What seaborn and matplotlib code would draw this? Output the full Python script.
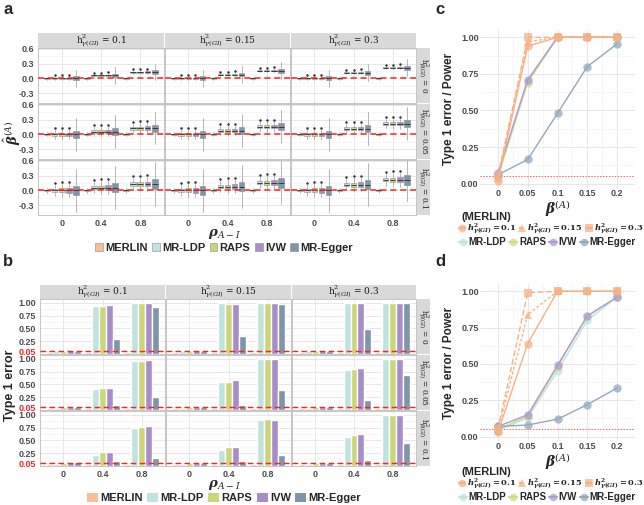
import numpy as np
import pandas as pd
import seaborn as sns
import matplotlib.pyplot as plt
from matplotlib.patches import Patch
from matplotlib.lines import Line2D
from matplotlib.colors import to_rgba

sns.set_style('white')
plt.rcParams['font.family'] = ['Liberation Sans', 'DejaVu Sans']
plt.rcParams['mathtext.fontset'] = 'dejavuserif'

methods = ['MERLIN', 'MR-LDP', 'RAPS', 'IVW', 'MR-Egger']
colors = ['#F9BE93', '#BFE3DE', '#CDD57A', '#A88DC9', '#7F95A8']
line_colors = ['#F7B184', '#BDE5E0', '#CFDC83', '#B09AD6', '#94A9BC']
rho = ['0', '0.4', '0.8']
h2_gamma = ['0.1', '0.15', '0.3']
h2_beta = ['0', '0.05', '0.1']

# panel a: medians of the MR estimates [h2_gamma][rho] (MERLIN stays at 0)
a_median = [[0.0, 0.06, 0.13], [0.0, 0.08, 0.16], [0.0, 0.12, 0.22]]
# half IQR per [h2_beta][method]
a_iqr = [[0.008, 0.01, 0.01, 0.012, 0.04],
         [0.012, 0.03, 0.03, 0.035, 0.07],
         [0.015, 0.035, 0.04, 0.045, 0.10]]
# whisker reach per [h2_beta][method]
a_whisker = [[0.03, 0.03, 0.03, 0.035, 0.17],
             [0.04, 0.09, 0.10, 0.10, 0.33],
             [0.05, 0.12, 0.13, 0.14, 0.44]]
# top outlier distance above the whisker
a_outlier = [[0.0, 0.03, 0.03, 0.03, 0.0],
             [0.0, 0.04, 0.04, 0.04, 0.0],
             [0.0, 0.04, 0.04, 0.04, 0.0]]

# panel b: type 1 error [h2_beta][h2_gamma][rho][method]
b_err = [
    [[[0.03, 0.05, 0.05, 0.07, 0.05], [0.03, 0.93, 0.93, 0.95, 0.28], [0.04, 0.99, 0.99, 0.99, 0.91]],
     [[0.03, 0.05, 0.05, 0.07, 0.05], [0.03, 0.99, 0.97, 0.98, 0.34], [0.04, 0.99, 0.99, 1.00, 0.97]],
     [[0.03, 0.05, 0.05, 0.07, 0.05], [0.04, 0.99, 0.99, 0.99, 0.48], [0.04, 0.99, 0.99, 0.99, 0.99]]],
    [[[0.03, 0.04, 0.05, 0.06, 0.06], [0.03, 0.40, 0.43, 0.43, 0.10], [0.03, 0.95, 0.95, 0.97, 0.26]],
     [[0.03, 0.04, 0.05, 0.06, 0.06], [0.03, 0.55, 0.54, 0.58, 0.10], [0.03, 1.00, 1.00, 1.00, 0.39]],
     [[0.03, 0.04, 0.05, 0.05, 0.05], [0.03, 0.79, 0.80, 0.81, 0.19], [0.03, 1.00, 1.00, 1.00, 0.68]]],
    [[[0.03, 0.04, 0.05, 0.07, 0.07], [0.03, 0.22, 0.27, 0.27, 0.09], [0.04, 0.74, 0.77, 0.78, 0.15]],
     [[0.03, 0.04, 0.05, 0.06, 0.06], [0.03, 0.31, 0.36, 0.37, 0.09], [0.04, 0.90, 0.91, 0.90, 0.22]],
     [[0.03, 0.04, 0.05, 0.05, 0.05], [0.04, 0.56, 0.60, 0.62, 0.12], [0.04, 1.00, 1.00, 1.00, 0.44]]],
]

# panels c and d: power
beta_ticks = ['0', '0.05', '0.1', '0.15', '0.2']
merlin_h2 = ['0.1', '0.15', '0.3']
c_merlin = [[0.02, 0.94, 1.0, 1.0, 1.0], [0.04, 0.97, 1.0, 1.0, 1.0], [0.05, 1.0, 1.0, 1.0, 1.0]]
c_mr = [[0.05, 0.70, 1.0, 1.0, 1.0], [0.05, 0.69, 1.0, 1.0, 1.0],
        [0.07, 0.71, 1.0, 1.0, 1.0], [0.06, 0.165, 0.48, 0.80, 0.955]]
d_merlin = [[0.03, 0.64, 1.0, 1.0, 1.0], [0.04, 0.84, 1.0, 1.0, 1.0], [0.05, 0.99, 1.0, 1.0, 1.0]]
d_mr = [[0.04, 0.13, 0.45, 0.80, 0.96], [0.05, 0.14, 0.48, 0.83, 0.96],
        [0.07, 0.15, 0.49, 0.83, 0.96], [0.07, 0.08, 0.12, 0.22, 0.335]]

W, H = 644, 505
fig = plt.figure(figsize=(W / 100, H / 100), dpi=100)


def add_ax(l, t, r, b):
    return fig.add_axes([l / W, 1 - b / H, (r - l) / W, (b - t) / H])


def strip(l, t, r, b, label, rot=0, size=6.5):
    s = add_ax(l, t, r, b)
    s.set_facecolor('#D9D9D9')
    s.set_xticks([])
    s.set_yticks([])
    for sp in s.spines.values():
        sp.set_visible(False)
    s.text(0.5, 0.5, label, transform=s.transAxes, ha='center', va='center',
           rotation=rot, fontsize=size, family='DejaVu Serif', color='#1A1A1A')


def style_facet(ax, show_x, show_y):
    ax.set_facecolor('white')
    ax.set_axisbelow(True)
    ax.grid(True, which='major', color='#E3E3E3', lw=0.6)
    ax.grid(True, which='minor', axis='y', color='#F0F0F0', lw=0.4)
    for sp in ax.spines.values():
        sp.set_color('#BDBDBD')
        sp.set_linewidth(0.6)
    ax.tick_params(which='both', length=2, color='#B3B3B3', labelsize=6.5,
                   labelcolor='#4D4D4D', pad=1)
    ax.tick_params(which='minor', length=0)
    ax.tick_params(labelbottom=show_x, labelleft=show_y)
    for t in ax.get_xticklabels() + ax.get_yticklabels():
        t.set_fontweight('bold')
    ax.set_xlabel('')
    ax.set_ylabel('')


def fig_text(x, y, s, **kw):
    fig.text(x / W, 1 - y / H, s, ha='center', va='center', **kw)


# ---------- panel a ----------
a_cols = [(38, 164), (165, 290), (291, 416)]
a_rows = [(48, 103), (104, 159), (160, 215)]
dodge = [-0.36, -0.18, 0.0, 0.18, 0.36]
for c in range(3):
    strip(a_cols[c][0], 33, a_cols[c][1], 48,
          r'$\mathrm{h}^2_{\gamma(GI)}$ = ' + h2_gamma[c])
for r in range(3):
    strip(417, a_rows[r][0], 430, a_rows[r][1],
          r'$\mathrm{h}^2_{\beta(GI)}$ = ' + h2_beta[r], rot=-90, size=5.3)
    for c in range(3):
        ax = add_ax(a_cols[c][0], a_rows[r][0], a_cols[c][1], a_rows[r][1])
        stats, pos, fill = [], [], []
        for k in range(3):
            for m in range(5):
                med = 0.0 if m == 0 else a_median[c][k]
                q = a_iqr[r][m]
                w = a_whisker[r][m]
                fl = [med + w + a_outlier[r][m]] if a_outlier[r][m] > 0 else []
                stats.append(dict(med=med, q1=med - q, q3=med + q,
                                  whislo=med - w, whishi=med + w, fliers=fl))
                pos.append(k + dodge[m])
                fill.append(colors[m])
        bp = ax.bxp(stats, positions=pos, widths=0.15, patch_artist=True,
                    showcaps=False, manage_ticks=False,
                    boxprops=dict(edgecolor='#8C8C8C', linewidth=0.4),
                    whiskerprops=dict(color='#9A9A9A', linewidth=0.5),
                    medianprops=dict(color='#3A3A3A', linewidth=0.7),
                    flierprops=dict(marker='o', markersize=1.8, markerfacecolor='#333333',
                                    markeredgewidth=0))
        for patch, col in zip(bp['boxes'], fill):
            patch.set_facecolor(col)
        ax.axhline(0, color='#FF2020', ls=(0, (4, 2.5)), lw=1.1, zorder=4)
        ax.set_xlim(-0.6, 2.6)
        ax.set_ylim(-0.5, 0.62)
        ax.set_xticks(range(3))
        ax.set_xticklabels(rho)
        ax.set_yticks([-0.3, 0.0, 0.3, 0.6])
        ax.set_yticklabels(['-0.3', '0.0', '0.3', '0.6'])
        ax.set_yticks([-0.45, -0.15, 0.15, 0.45], minor=True)
        style_facet(ax, r == 2, c == 0)

fig_text(224, 234, r'$\boldsymbol{\rho}_{A-I}$', fontsize=9.5)
fig_text(12, 133, r'$\hat{\boldsymbol{\beta}}^{(A)}$', fontsize=9.5, rotation=90)
handles_a = [Patch(facecolor=col, edgecolor='#8C8C8C', linewidth=0.4) for col in colors]
fig.legend(handles_a, methods, loc='center', bbox_to_anchor=(224 / W, 1 - 248 / H),
           ncol=5, frameon=False, handlelength=0.7, handleheight=0.7,
           handletextpad=0.2, columnspacing=0.4, prop=dict(weight='bold', size=8))

# ---------- panel b ----------
b_cols = [(40, 165), (166, 291), (292, 416)]
b_rows = [(299, 354), (355, 410), (411, 466)]
for c in range(3):
    strip(b_cols[c][0], 285, b_cols[c][1], 299,
          r'$\mathrm{h}^2_{\gamma(GI)}$ = ' + h2_gamma[c])
for r in range(3):
    strip(417, b_rows[r][0], 430, b_rows[r][1],
          r'$\mathrm{h}^2_{\beta(GI)}$ = ' + h2_beta[r], rot=-90, size=5.3)
    for c in range(3):
        ax = add_ax(b_cols[c][0], b_rows[r][0], b_cols[c][1], b_rows[r][1])
        df = pd.DataFrame({
            'rho': [rho[k] for k in range(3) for m in range(5)],
            'method': [methods[m] for k in range(3) for m in range(5)],
            'value': [b_err[r][c][k][m] for k in range(3) for m in range(5)],
        })
        sns.barplot(data=df, x='rho', y='value', hue='method', order=rho,
                    hue_order=methods, palette=colors, saturation=1, width=0.9,
                    gap=0, errorbar=None, legend=False, ax=ax)
        ax.axhline(0.05, color='#FF2020', ls=(0, (4, 2.5)), lw=1.0, zorder=4)
        ax.set_xlim(-0.6, 2.6)
        ax.set_ylim(-0.005, 1.075)
        ax.set_yticks([0.05, 0.25, 0.5, 0.75, 1.0])
        ax.set_yticklabels(['0.05', '0.25', '0.50', '0.75', '1.00'])
        ax.set_yticks([0.125, 0.375, 0.625, 0.875], minor=True)
        style_facet(ax, r == 2, c == 0)
        if c == 0:
            ax.get_yticklabels()[0].set_color('#FF2020')

fig_text(224, 485, r'$\boldsymbol{\rho}_{A-I}$', fontsize=9.5)
fig_text(10, 385, 'Type 1 error', fontsize=9, weight='bold', rotation=90)
handles_b = [Patch(facecolor=col, edgecolor='none') for col in colors]
fig.legend(handles_b, methods, loc='center', bbox_to_anchor=(224 / W, 1 - 498 / H),
           ncol=5, frameon=False, handlelength=1.0, handleheight=0.9,
           handletextpad=0.2, columnspacing=0.4, borderpad=0.1,
           prop=dict(weight='bold', size=8))

# ---------- panels c, d ----------
merlin_styles = ['-', (0, (2, 1.5)), (0, (4, 2))]
merlin_markers = ['o', '^', 's']


def power_panel(box, merlin_vals, mr_vals, leg_y):
    ax = add_ax(*box)
    xs = np.arange(len(beta_ticks))
    for m in range(4):
        col = line_colors[m + 1]
        sns.lineplot(x=xs, y=mr_vals[m], ax=ax, color=col, lw=1.0, marker='o',
                     markersize=6, markerfacecolor=to_rgba(col, 0.75),
                     markeredgewidth=0)
    for i in range(3):
        col = line_colors[0]
        sns.lineplot(x=xs, y=merlin_vals[i], ax=ax, color=col, lw=1.0,
                     linestyle=merlin_styles[i], marker=merlin_markers[i],
                     markersize=6, markerfacecolor=to_rgba(col, 0.75),
                     markeredgewidth=0)
    ax.axhline(0.05, color='#FF6060', ls=(0, (1.5, 1.5)), lw=0.7, zorder=1)
    ax.set_xlim(-0.6, 4.6)
    ax.set_ylim(-0.03, 1.05)
    ax.set_xticks(xs)
    ax.set_xticklabels(beta_ticks)
    ax.set_yticks([0, 0.25, 0.5, 0.75, 1.0])
    ax.set_yticklabels(['0.00', '0.25', '0.50', '0.75', '1.00'])
    ax.set_xticks(xs[:-1] + 0.5, minor=True)
    ax.set_yticks([0.125, 0.375, 0.625, 0.875], minor=True)
    style_facet(ax, True, True)
    ax.grid(True, which='minor', axis='x', color='#F0F0F0', lw=0.4)
    for sp in ax.spines.values():
        sp.set_visible(False)
    ax.tick_params(length=0)
    ax.set_ylabel('Type 1 error / Power', fontsize=8.5, weight='bold', labelpad=4)
    ax.set_xlabel(r'$\boldsymbol{\beta}^{(A)}$', fontsize=10, labelpad=0)

    fig.text(462 / W, 1 - leg_y / H, '(MERLIN)', fontsize=8, weight='bold',
             ha='left', va='center')
    h1 = [Line2D([0], [0], color=line_colors[0], ls=merlin_styles[i],
                 marker=merlin_markers[i], markersize=5.5,
                 markerfacecolor=to_rgba(line_colors[0], 0.75), markeredgewidth=0)
          for i in range(3)]
    l1 = [r'$\boldsymbol{h}^{\mathbf{2}}_{\boldsymbol{\gamma(GI)}}\mathbf{=' + v + '}$'
          for v in merlin_h2]
    fig.legend(h1, l1, loc='center left', bbox_to_anchor=(458 / W, 1 - (leg_y + 12) / H),
               ncol=3, frameon=False, handlelength=0.8, handletextpad=0.2,
               columnspacing=0.3, fontsize=6.0, borderaxespad=0, borderpad=0.1)
    h2 = [Line2D([0], [0], color=line_colors[m + 1], marker='o', markersize=5.5,
                 markerfacecolor=to_rgba(line_colors[m + 1], 0.75), markeredgewidth=0)
          for m in range(4)]
    fig.legend(h2, methods[1:], loc='center left',
               bbox_to_anchor=(458 / W, 1 - (leg_y + 25) / H),
               ncol=4, frameon=False, handlelength=0.8, handletextpad=0.2,
               columnspacing=0.3, borderaxespad=0, borderpad=0.1,
               prop=dict(weight='bold', size=7))


power_panel((480, 30, 635, 188), c_merlin, c_mr, 217)
power_panel((480, 284, 635, 441), d_merlin, d_mr, 472)

for lab, x, y in [('a', 8, 10), ('b', 8, 262), ('c', 440, 10), ('d', 440, 262)]:
    fig.text(x / W, 1 - y / H, lab, fontsize=12, weight='bold', ha='center', va='center')

fig.savefig('out.png', dpi=100)
